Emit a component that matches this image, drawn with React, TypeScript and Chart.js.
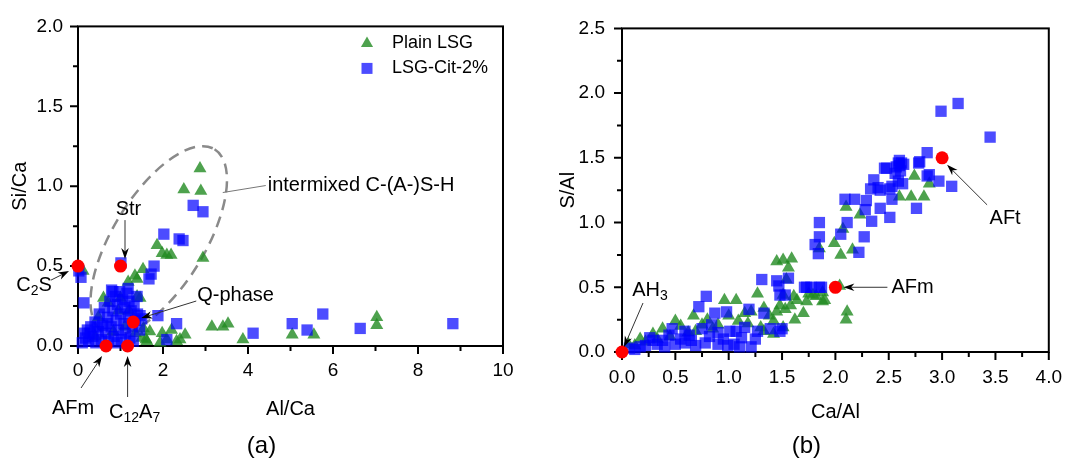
import React, { useEffect, useRef } from 'react';
import { Chart, registerables } from 'chart.js';

Chart.register(...registerables);

const FONT = '"Liberation Sans", Arial, Helvetica, sans-serif';
const FS_TICK = 19;
const FS_TEXT = 20;
const FS_LEGEND = 18;
const FS_PANEL = 24;

// ---------------- Panel (a): Si/Ca vs Al/Ca ----------------
const alCaTicks = [0, 2, 4, 6, 8, 10];
const siCaTicks = [0, 0.5, 1.0, 1.5, 2.0];

const plainLSG_a: [number, number][] = [
  [2.87, 1.11], [2.49, 0.98], [2.89, 0.97],
  [1.86, 0.63], [1.98, 0.58], [2.09, 0.57], [2.19, 0.57], [2.94, 0.55],
  [1.53, 0.48], [1.39, 0.42], [1.34, 0.44], [1.18, 0.40], [1.46, 0.30], [1.39, 0.31],
  [0.71, 0.27], [0.12, 0.47], [0.48, 0.18], [0.83, 0.09], [1.00, 0.30], [0.60, 0.30],
  [0.95, 0.22], [1.20, 0.22], [1.35, 0.08], [1.10, 0.12], [0.40, 0.06],
  [1.54, 0.11], [1.60, 0.04], [1.62, 0.03], [1.69, 0.09], [1.50, 0.05], [1.93, 0.02],
  [1.98, 0.08], [2.09, 0.04], [2.20, 0.10], [2.32, 0.03], [2.40, 0.04], [2.52, 0.07],
  [3.15, 0.12], [3.41, 0.12], [3.53, 0.14], [3.88, 0.04], [5.04, 0.07], [5.55, 0.07],
  [7.03, 0.18], [7.03, 0.13],
];

const citLSG_a: [number, number][] = [
  [2.71, 0.88], [2.94, 0.84], [2.02, 0.70], [2.38, 0.67], [2.47, 0.66], [1.79, 0.50],
  [1.72, 0.45], [1.67, 0.42], [1.01, 0.52], [0.07, 0.43], [0.02, 0.47], [0.14, 0.27],
  [0.82, 0.34], [0.79, 0.35], [1.18, 0.36], [1.39, 0.31], [1.46, 0.19], [1.88, 0.19],
  [2.32, 0.14], [2.09, 0.04], [4.12, 0.08], [5.04, 0.14], [5.39, 0.10], [5.76, 0.20],
  [6.64, 0.11], [8.82, 0.14],
  [0.10, 0.02], [0.18, 0.05], [0.22, 0.10], [0.15, 0.08], [0.25, 0.03], [0.30, 0.12],
  [0.35, 0.06], [0.40, 0.15], [0.42, 0.02], [0.48, 0.09], [0.50, 0.20], [0.55, 0.04],
  [0.58, 0.13], [0.62, 0.24], [0.65, 0.08], [0.70, 0.18], [0.72, 0.03], [0.75, 0.28],
  [0.78, 0.12], [0.82, 0.22], [0.85, 0.06], [0.88, 0.31], [0.90, 0.16], [0.93, 0.26],
  [0.95, 0.10], [0.98, 0.34], [1.00, 0.20], [1.02, 0.04], [1.05, 0.29], [1.08, 0.14],
  [1.10, 0.24], [1.12, 0.08], [1.15, 0.33], [1.18, 0.18], [1.20, 0.28], [1.22, 0.05],
  [1.25, 0.22], [1.28, 0.12], [1.32, 0.25], [1.35, 0.16], [1.40, 0.20], [1.45, 0.10],
  [1.50, 0.17], [0.28, 0.08], [0.45, 0.12], [0.68, 0.14], [0.92, 0.02], [1.30, 0.03],
];

const phaseNames_a = ['C_{2}S', 'Str', 'Q-phase', 'AFm', 'C_{12}A_{7}'];
const phaseAlCa = [0, 1.0, 1.3, 0.66, 1.167];
const phaseSiCa = [0.5, 0.5, 0.15, 0, 0];

// ---------------- Panel (b): S/Al vs Ca/Al ----------------
const caAlTicks = [0, 0.5, 1.0, 1.5, 2.0, 2.5, 3.0, 3.5, 4.0];
const sAlTicks = [0, 0.5, 1.0, 1.5, 2.0, 2.5];

const plainLSG_b: [number, number][] = [
  [0.06, 0.06], [0.12, 0.05], [0.17, 0.10], [0.22, 0.08], [0.29, 0.14], [0.33, 0.10],
  [0.38, 0.18], [0.45, 0.12], [0.50, 0.24], [0.55, 0.20], [0.62, 0.15], [0.67, 0.28],
  [0.69, 0.16], [0.75, 0.21], [0.80, 0.25], [0.85, 0.18], [0.90, 0.21], [0.96, 0.40],
  [1.00, 0.28], [1.07, 0.40], [1.09, 0.24], [1.15, 0.30], [1.18, 0.22], [1.21, 0.31],
  [1.27, 0.45], [1.30, 0.19], [1.33, 0.34], [1.33, 0.16], [1.38, 0.28], [1.42, 0.24],
  [1.42, 0.14], [1.45, 0.31], [1.48, 0.36], [1.51, 0.19], [1.53, 0.33], [1.58, 0.36],
  [1.62, 0.25], [1.70, 0.30], [1.73, 0.39], [1.75, 0.45], [1.82, 0.43], [1.88, 0.39],
  [1.64, 0.40], [1.51, 0.44], [1.61, 0.43], [1.79, 0.44], [1.88, 0.46], [1.90, 0.40],
  [2.04, 0.51], [2.11, 0.31], [2.10, 0.25],
  [1.45, 0.70], [1.51, 0.71], [1.59, 0.72], [1.56, 0.65], [1.54, 0.56],
  [1.85, 0.80], [1.99, 0.84], [2.05, 0.75], [2.16, 0.79], [2.07, 0.95], [2.10, 1.12],
  [2.23, 1.06], [2.60, 1.20], [2.71, 1.20], [2.83, 1.20], [2.74, 1.36], [2.88, 1.30],
];

const citLSG_b: [number, number][] = [
  [0.07, 0.03], [0.12, 0.02], [0.17, 0.04], [0.22, 0.05], [0.26, 0.11], [0.29, 0.09],
  [0.33, 0.06], [0.38, 0.09], [0.40, 0.04], [0.44, 0.13], [0.47, 0.18], [0.50, 0.06],
  [0.55, 0.10], [0.59, 0.07], [0.59, 0.16], [0.63, 0.13], [0.65, 0.09], [0.69, 0.05],
  [0.72, 0.35], [0.75, 0.18], [0.78, 0.07], [0.79, 0.43], [0.82, 0.12], [0.84, 0.21],
  [0.87, 0.30], [0.90, 0.06], [0.90, 0.15], [0.95, 0.10], [0.98, 0.31], [0.99, 0.05],
  [1.01, 0.16], [1.05, 0.06], [1.07, 0.16], [1.10, 0.04], [1.12, 0.11], [1.15, 0.19],
  [1.19, 0.33], [1.21, 0.04], [1.25, 0.10], [1.27, 0.16], [1.33, 0.30], [1.39, 0.18],
  [1.48, 0.16], [1.50, 0.18],
  [1.31, 0.56], [1.45, 0.55], [1.56, 0.57], [1.47, 0.51], [1.53, 0.44], [1.48, 0.44],
  [1.71, 0.50], [1.73, 0.50], [1.77, 0.50], [1.85, 0.50], [1.87, 0.50],
  [1.81, 0.83], [1.84, 0.76], [1.85, 0.89], [1.85, 1.00], [2.05, 0.91], [2.11, 1.00],
  [2.27, 0.89], [2.22, 0.77], [2.09, 1.18], [2.18, 1.18], [2.29, 1.17], [2.28, 1.10],
  [2.42, 1.11], [2.34, 1.01], [2.51, 1.04], [2.33, 1.26], [2.36, 1.33], [2.42, 1.25],
  [2.40, 1.27], [2.51, 1.26], [2.53, 1.18], [2.53, 1.28], [2.48, 1.42], [2.46, 1.42],
  [2.56, 1.38], [2.59, 1.32], [2.60, 1.44], [2.62, 1.46], [2.59, 1.46], [2.63, 1.30],
  [2.57, 1.43], [2.61, 1.40], [2.64, 1.45], [2.60, 1.48],
  [2.78, 1.46], [2.79, 1.47], [2.76, 1.11], [2.86, 1.54], [2.88, 1.37], [2.86, 1.36],
  [2.97, 1.32], [3.09, 1.28], [2.99, 1.86], [3.15, 1.92], [3.45, 1.66],
];

const phaseNames_b = ['AH_{3}', 'AFm', 'AFt'];
const phaseCaAl = [0, 2, 3];
const phaseSAl = [0, 0.5, 1.5];

// ---------------- styles / layout (pixels) ----------------
const GREEN = 'rgba(34,139,34,0.8)';
const BLUE = 'rgba(0,0,255,0.7)';
const RED = '#ff0000';

type Callout = { label: [number, number]; from: [number, number]; to: [number, number]; align?: CanvasTextAlign };
const calloutLayout_a: Callout[] = [
  { label: [-44, 19], from: [-27, 14], to: [-9, 5] },
  { label: [8, -57], from: [4.5, -46], to: [4.5, -7] },
  { label: [64, -27], from: [63, -21], to: [8, -4], align: 'left' },
  { label: [-33, 62], from: [-25, 42], to: [-4, 10] },
  { label: [7, 66], from: [0, 51], to: [0, 10] },
];
const calloutLayout_b: Callout[] = [
  { label: [28, -62], from: [21, -49], to: [2, -5] },
  { label: [56, 0], from: [52, 0], to: [8, 0], align: 'left' },
  { label: [63, 61], from: [45, 47], to: [5, 7] },
];

type Seg = { t: string; sub?: boolean };
function parseRich(s: string): Seg[] {
  const segs: Seg[] = [];
  const re = /_\{([^}]*)\}/g;
  let last = 0;
  let m: RegExpExecArray | null;
  while ((m = re.exec(s))) {
    if (m.index > last) segs.push({ t: s.slice(last, m.index) });
    segs.push({ t: m[1], sub: true });
    last = re.lastIndex;
  }
  if (last < s.length) segs.push({ t: s.slice(last) });
  return segs;
}

function drawRich(ctx: CanvasRenderingContext2D, s: string, x: number, y: number, size: number, align: CanvasTextAlign = 'center') {
  const segs = parseRich(s);
  const main = `${size}px ${FONT}`;
  const sub = `${Math.round(size * 0.72)}px ${FONT}`;
  let w = 0;
  for (const g of segs) {
    ctx.font = g.sub ? sub : main;
    w += ctx.measureText(g.t).width;
  }
  let cx = align === 'center' ? x - w / 2 : align === 'left' ? x : x - w;
  ctx.save();
  ctx.fillStyle = '#000';
  ctx.textBaseline = 'middle';
  ctx.textAlign = 'left';
  for (const g of segs) {
    ctx.font = g.sub ? sub : main;
    ctx.fillText(g.t, cx, g.sub ? y + size * 0.32 : y);
    cx += ctx.measureText(g.t).width;
  }
  ctx.restore();
}

function drawArrow(ctx: CanvasRenderingContext2D, x1: number, y1: number, x2: number, y2: number, head: boolean, color = '#333') {
  const ang = Math.atan2(y2 - y1, x2 - x1);
  const c = Math.cos(ang), s = Math.sin(ang);
  const L = 11, W = 3.8;
  ctx.save();
  ctx.strokeStyle = color;
  ctx.lineWidth = 1;
  ctx.beginPath();
  ctx.moveTo(x1, y1);
  ctx.lineTo(head ? x2 - c * L * 0.7 : x2, head ? y2 - s * L * 0.7 : y2);
  ctx.stroke();
  if (head) {
    ctx.fillStyle = '#000';
    ctx.beginPath();
    ctx.moveTo(x2, y2);
    ctx.lineTo(x2 - c * L - s * W, y2 - s * L + c * W);
    ctx.lineTo(x2 - c * L * 0.7, y2 - s * L * 0.7);
    ctx.lineTo(x2 - c * L + s * W, y2 - s * L - c * W);
    ctx.closePath();
    ctx.fill();
  }
  ctx.restore();
}

function midpoints(vals: number[]) {
  const out: number[] = [];
  for (let i = 0; i < vals.length - 1; i++) out.push((vals[i] + vals[i + 1]) / 2);
  return out;
}

interface Decor {
  xTicks: number[];
  yTicks: number[];
  xTitle: string;
  yTitle: string;
  xTitleDy: number;
  yTitleDx: number;
  panel: string;
  phaseNames: string[];
  callouts: Callout[];
  legend?: boolean;
  ellipse?: { cx: number; cy: number; a: number; b: number; rot: number };
}

function decorPlugin(d: Decor) {
  return {
    id: 'decor',
    beforeDatasetsDraw(chart: any) {
      const { ctx, chartArea, scales } = chart;
      const { left, right, top, bottom } = chartArea;
      ctx.save();
      ctx.strokeStyle = '#000';
      ctx.lineWidth = 2;
      ctx.strokeRect(left, top, right - left, bottom - top);
      ctx.beginPath();
      for (const v of d.xTicks) {
        const p = scales.x.getPixelForValue(v);
        ctx.moveTo(p, bottom); ctx.lineTo(p, bottom + 8);
      }
      for (const v of midpoints(d.xTicks)) {
        const p = scales.x.getPixelForValue(v);
        ctx.moveTo(p, bottom); ctx.lineTo(p, bottom + 5);
      }
      for (const v of d.yTicks) {
        const p = scales.y.getPixelForValue(v);
        ctx.moveTo(left, p); ctx.lineTo(left - 8, p);
      }
      for (const v of midpoints(d.yTicks)) {
        const p = scales.y.getPixelForValue(v);
        ctx.moveTo(left, p); ctx.lineTo(left - 5, p);
      }
      ctx.stroke();
      if (d.ellipse) {
        const e = d.ellipse;
        const ex = scales.x.getPixelForValue(e.cx);
        const ey = scales.y.getPixelForValue(e.cy);
        ctx.strokeStyle = '#8a8a8a';
        ctx.lineWidth = 2.5;
        ctx.setLineDash([11, 7]);
        ctx.beginPath();
        ctx.ellipse(ex, ey, e.a, e.b, e.rot, 0, Math.PI * 2);
        ctx.stroke();
        ctx.setLineDash([]);
      }
      ctx.restore();
    },
    afterDatasetsDraw(chart: any) {
      const { ctx, chartArea, scales } = chart;
      const { left, right, top, bottom } = chartArea;
      const cxm = (left + right) / 2;
      const pts = chart.data.datasets[0].data;
      d.callouts.forEach((c, i) => {
        const px = scales.x.getPixelForValue(pts[i].x);
        const py = scales.y.getPixelForValue(pts[i].y);
        drawArrow(ctx, px + c.from[0], py + c.from[1], px + c.to[0], py + c.to[1], true);
        drawRich(ctx, d.phaseNames[i], px + c.label[0], py + c.label[1], FS_TEXT, c.align || 'center');
      });
      if (d.ellipse) {
        const e = d.ellipse;
        const ex = scales.x.getPixelForValue(e.cx);
        const ey = scales.y.getPixelForValue(e.cy);
        drawArrow(ctx, ex + 64, ey - 48, ex + 107, ey - 55, false, '#777');
        drawRich(ctx, 'intermixed C-(A-)S-H', ex + 109, ey - 55, FS_TEXT, 'left');
      }
      drawRich(ctx, d.xTitle, cxm, bottom + d.xTitleDy, FS_TEXT, 'center');
      ctx.save();
      ctx.translate(left + d.yTitleDx, (top + bottom) / 2);
      ctx.rotate(-Math.PI / 2);
      drawRich(ctx, d.yTitle, 0, 0, FS_TEXT, 'center');
      ctx.restore();
      drawRich(ctx, d.panel, cxm - 29, 446, FS_PANEL, 'center');
      if (d.legend) {
        const lx = right - 136;
        const ly1 = top + 17;
        const ly2 = top + 42;
        ctx.save();
        const ds = chart.data.datasets;
        const plain = ds.find((s: any) => s.pointStyle === 'triangle');
        const cit = ds.find((s: any) => s.pointStyle === 'rect');
        ctx.fillStyle = plain.backgroundColor;
        const r = 7;
        ctx.beginPath();
        ctx.moveTo(lx, ly1 - r);
        ctx.lineTo(lx + r * 0.866, ly1 + r * 0.5);
        ctx.lineTo(lx - r * 0.866, ly1 + r * 0.5);
        ctx.closePath();
        ctx.fill();
        ctx.fillStyle = cit.backgroundColor;
        ctx.fillRect(lx - 5.5, ly2 - 5.5, 11, 11);
        ctx.restore();
        drawRich(ctx, plain.label, lx + 25, ly1, FS_LEGEND, 'left');
        drawRich(ctx, cit.label, lx + 25, ly2, FS_LEGEND, 'left');
      }
    },
  };
}

function makeConfig(opts: {
  plain: [number, number][];
  cit: [number, number][];
  phX: number[];
  phY: number[];
  xTicks: number[];
  yTicks: number[];
  xFmt: (v: number) => string;
  yFmt: (v: number) => string;
  padding: { left: number; top: number; right: number; bottom: number };
  yWidth: number;
  xHeight: number;
  xPad: number;
  yPad: number;
  decor: Decor;
}): any {
  const tickFont = { family: FONT, size: FS_TICK };
  return {
    type: 'scatter',
    data: {
      datasets: [
        {
          label: 'Reference phases',
          data: opts.phX.map((x, i) => ({ x, y: opts.phY[i] })),
          pointStyle: 'circle',
          pointRadius: 6.5,
          backgroundColor: RED,
          pointBackgroundColor: RED,
          borderWidth: 0,
          pointBorderWidth: 0,
          order: 0,
          clip: false,
        },
        {
          label: 'LSG-Cit-2%',
          data: opts.cit.map(([x, y]) => ({ x, y })),
          pointStyle: 'rect',
          pointRadius: 8,
          backgroundColor: BLUE,
          pointBackgroundColor: BLUE,
          borderWidth: 0,
          pointBorderWidth: 0,
          order: 1,
          clip: false,
        },
        {
          label: 'Plain LSG',
          data: opts.plain.map(([x, y]) => ({ x, y })),
          pointStyle: 'triangle',
          pointRadius: 7.5,
          backgroundColor: GREEN,
          pointBackgroundColor: GREEN,
          borderWidth: 0,
          pointBorderWidth: 0,
          order: 2,
          clip: false,
        },
      ],
    },
    options: {
      responsive: false,
      maintainAspectRatio: false,
      animation: false,
      events: [],
      layout: { padding: opts.padding },
      plugins: { legend: { display: false }, tooltip: { enabled: false }, title: { display: false } },
      scales: {
        x: {
          type: 'linear',
          position: 'bottom',
          min: opts.xTicks[0],
          max: opts.xTicks[opts.xTicks.length - 1],
          afterBuildTicks: (s: any) => { s.ticks = opts.xTicks.map((value) => ({ value })); },
          afterFit: (s: any) => { s.height = opts.xHeight; },
          ticks: { callback: (v: any) => opts.xFmt(Number(v)), font: tickFont, color: '#000', padding: opts.xPad, maxRotation: 0, autoSkip: false },
          grid: { display: false, drawTicks: false },
          border: { display: false },
        },
        y: {
          type: 'linear',
          position: 'left',
          min: opts.yTicks[0],
          max: opts.yTicks[opts.yTicks.length - 1],
          afterBuildTicks: (s: any) => { s.ticks = opts.yTicks.map((value) => ({ value })); },
          afterFit: (s: any) => { s.width = opts.yWidth; },
          ticks: { callback: (v: any) => opts.yFmt(Number(v)), font: tickFont, color: '#000', padding: opts.yPad, autoSkip: false },
          grid: { display: false, drawTicks: false },
          border: { display: false },
        },
      },
    },
    plugins: [decorPlugin(opts.decor)],
  };
}

export default function App() {
  const refA = useRef<HTMLCanvasElement>(null);
  const refB = useRef<HTMLCanvasElement>(null);

  useEffect(() => {
    const cfgA = makeConfig({
      plain: plainLSG_a,
      cit: citLSG_a,
      phX: phaseAlCa,
      phY: phaseSiCa,
      xTicks: alCaTicks,
      yTicks: siCaTicks,
      xFmt: (v) => String(v),
      yFmt: (v) => v.toFixed(1),
      padding: { left: 0, top: 20, right: 37, bottom: 0 },
      yWidth: 78,
      xHeight: 116,
      xPad: 13,
      yPad: 15,
      decor: {
        xTicks: alCaTicks,
        yTicks: siCaTicks,
        xTitle: 'Al/Ca',
        yTitle: 'Si/Ca',
        xTitleDy: 63,
        yTitleDx: -58,
        panel: '(a)',
        phaseNames: phaseNames_a,
        callouts: calloutLayout_a,
        legend: true,
        ellipse: { cx: 1.9, cy: 0.66, a: 107, b: 46, rot: -1.022 },
      },
    });
    const cfgB = makeConfig({
      plain: plainLSG_b,
      cit: citLSG_b,
      phX: phaseCaAl,
      phY: phaseSAl,
      xTicks: caAlTicks,
      yTicks: sAlTicks,
      xFmt: (v) => v.toFixed(1),
      yFmt: (v) => v.toFixed(1),
      padding: { left: 0, top: 17, right: 19, bottom: 0 },
      yWidth: 82,
      xHeight: 110,
      xPad: 14,
      yPad: 17,
      decor: {
        xTicks: caAlTicks,
        yTicks: sAlTicks,
        xTitle: 'Ca/Al',
        yTitle: 'S/Al',
        xTitleDy: 60,
        yTitleDx: -54,
        panel: '(b)',
        phaseNames: phaseNames_b,
        callouts: calloutLayout_b,
      },
    });
    const a = new Chart(refA.current as HTMLCanvasElement, cfgA);
    const b = new Chart(refB.current as HTMLCanvasElement, cfgB);
    return () => {
      a.destroy();
      b.destroy();
    };
  }, []);

  return (
    <div style={{ position: 'fixed', left: 0, top: 0, width: 1076, height: 462, background: '#fff' }}>
      <canvas ref={refA} width={540} height={462} style={{ position: 'absolute', left: 0, top: 0, width: 540, height: 462 }} />
      <canvas ref={refB} width={536} height={462} style={{ position: 'absolute', left: 540, top: 0, width: 536, height: 462 }} />
    </div>
  );
}
